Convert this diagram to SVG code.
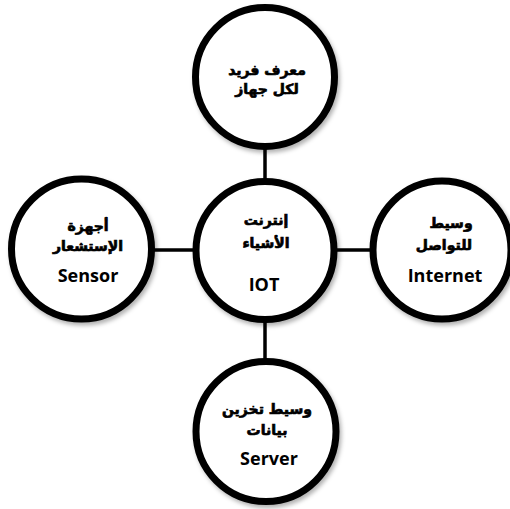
<svg xmlns="http://www.w3.org/2000/svg" width="510" height="509" viewBox="0 0 510 509">
<defs>
<filter id="sh" x="-20%" y="-20%" width="140%" height="140%">
<feDropShadow dx="2" dy="3" stdDeviation="2" flood-color="#000" flood-opacity="0.3"/>
</filter>
<style>
.c{fill:#fff;stroke:#000;stroke-width:7;filter:url(#sh)}
.ar{font-family:"DejaVu Sans",sans-serif;font-weight:bold;font-size:14px;text-anchor:middle;fill:#000;stroke:#000;stroke-width:0.7}
.en{font-family:"Open Sans","Liberation Sans",sans-serif;font-weight:bold;font-size:18px;text-anchor:middle;fill:#000}
.ln{stroke:#000;stroke-width:3.5;fill:none}
</style>
</defs>
<rect width="510" height="509" fill="#fff"/>
<g id="connectors">
<line class="ln" x1="265" y1="100" x2="265" y2="400"/>
<line class="ln" x1="100" y1="250" x2="430" y2="250"/>
</g>
<g id="top">
<circle class="c" cx="265" cy="77" r="69.5"/>
<text class="ar" x="267" y="75" direction="rtl">معرف فريد</text>
<text class="ar" x="267" y="94" direction="rtl">لكل جهاز</text>
</g>
<g id="center">
<circle class="c" cx="265" cy="250.5" r="69"/>
<text class="ar" x="266" y="225" direction="rtl" font-size="17">إنترنت</text>
<text class="ar" x="266" y="248" direction="rtl" font-size="17">الأشياء</text>
<text class="en" x="264" y="291" font-size="20">IOT</text>
</g>
<g id="left">
<circle class="c" cx="81.5" cy="249" r="70"/>
<text class="ar" x="88" y="231" direction="rtl">أجهزة</text>
<text class="ar" x="88" y="251" direction="rtl">الإستشعار</text>
<text class="en" x="88" y="282">Sensor</text>
</g>
<g id="right">
<circle class="c" cx="442" cy="250" r="69"/>
<text class="ar" x="451" y="228" direction="rtl">وسيط</text>
<text class="ar" x="444" y="250" direction="rtl">للتواصل</text>
<text class="en" x="445" y="282">Internet</text>
</g>
<g id="bottom">
<circle class="c" cx="266" cy="431.5" r="70"/>
<text class="ar" x="267" y="414" direction="rtl">وسيط تخزين</text>
<text class="ar" x="267" y="435" direction="rtl">بيانات</text>
<text class="en" x="269" y="465">Server</text>
</g>
</svg>
